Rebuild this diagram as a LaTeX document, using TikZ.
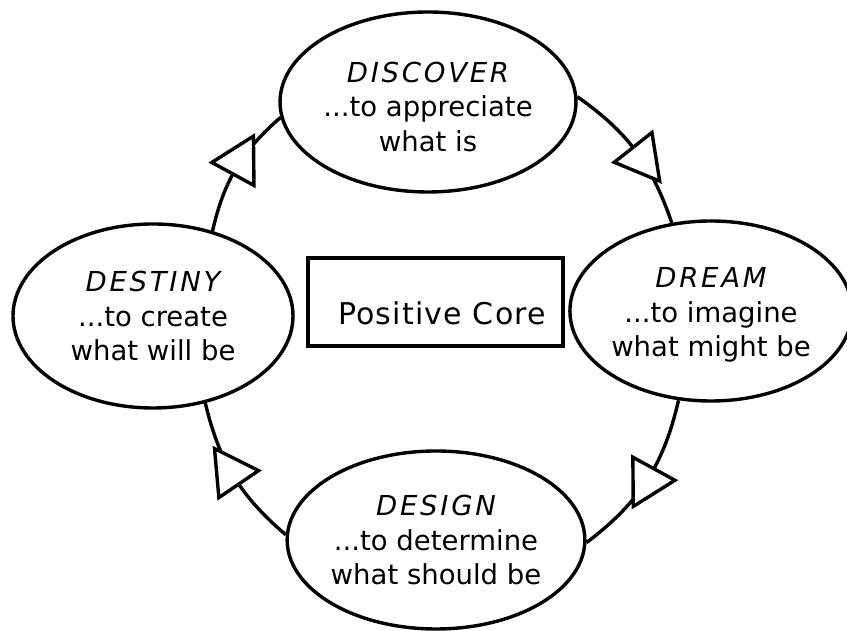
\documentclass[tikz,border=0pt]{standalone}
\usepackage{fontspec}
\setmainfont{DejaVu Sans}[ItalicFont={DejaVu Sans Oblique}]
\usetikzlibrary{shapes.geometric,decorations.markings}
\newcommand\bodyfont{\fontsize{27.5}{34.5}\selectfont}
\newcommand\corefont{\fontsize{30}{36}\selectfont\addfontfeatures{LetterSpace=4}}
\newcommand\phasetitle[1]{{\itshape\addfontfeatures{LetterSpace=10}#1}}
\tikzset{
  phase/.style={ellipse, draw, line width=3.4pt, fill=white, inner sep=0pt, align=center, font=\bodyfont},
  corebox/.style={draw, line width=4pt, inner sep=0pt},
  flow/.style={line width=3.4pt, postaction={decorate},
    decoration={markings, mark=at position #1 with {\draw[line width=3.4pt, fill=white, line join=miter] (0pt,24pt) -- (43pt,0pt) -- (0pt,-24pt) -- cycle;}}},
  flow/.default=0.43,
}
\begin{document}
\begin{tikzpicture}[x=1pt,y=1pt]
\useasboundingbox (0,0) rectangle (847,631);
\node[phase, minimum width=280pt, minimum height=180pt] (discover) at (428,529) {\phasetitle{DISCOVER}\rule{0pt}{30pt}\\...to appreciate\\what is};
\node[phase, minimum width=272pt, minimum height=180pt] (dream) at (711,320) {\phasetitle{DREAM}\rule{0pt}{28pt}\\...to imagine\\what might be};
\node[phase, minimum width=278pt, minimum height=178pt] (design) at (436,91) {\phasetitle{DESIGN}\\...to determine\\what should be};
\node[phase, minimum width=280pt, minimum height=184pt] (destiny) at (153,315) {\phasetitle{DESTINY}\\...to create\\what will be};
\node[corebox, minimum width=255pt, minimum height=88pt] (core) at (435.5,329) {};
\node[font=\corefont, anchor=base] (coretext) at (442,306) {Positive Core};
\draw[flow=0.45] (destiny.55) to[bend left=18] (discover.186);
\draw[flow=0.47] (discover.2) to[bend left=18] (dream.114);
\draw[flow=0.42] (dream.250) to[bend left=20] (design.359);
\draw[flow=0.44] (design.178) to[bend left=18] (destiny.301);
\end{tikzpicture}
\end{document}
